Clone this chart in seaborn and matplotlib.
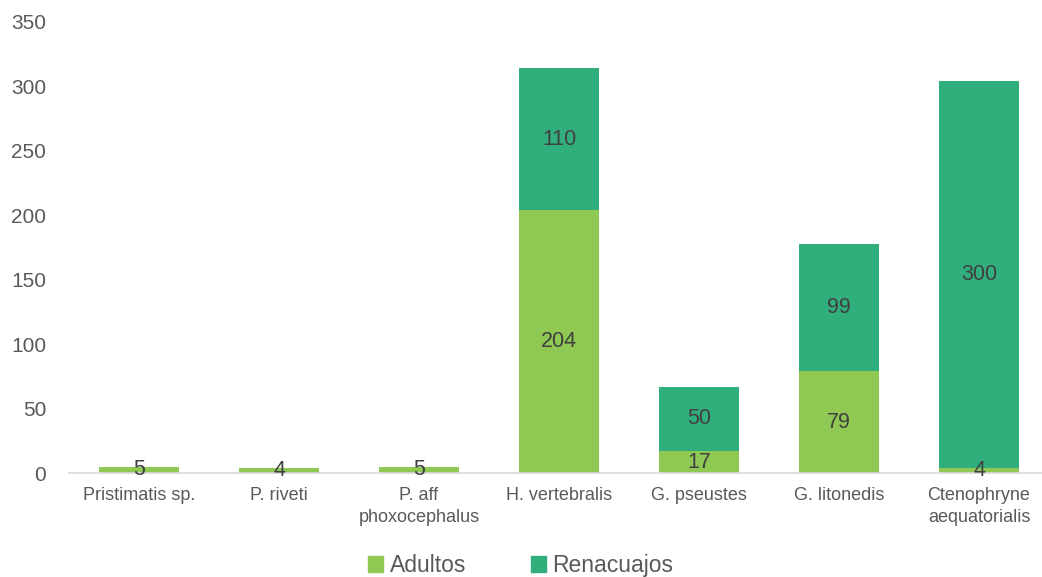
import pandas as pd
import matplotlib
matplotlib.use("Agg")
import matplotlib.pyplot as plt
import seaborn as sns
from matplotlib.patches import Patch

especies = ["Pristimatis sp.", "P. riveti", "P. aff\nphoxocephalus", "H. vertebralis",
            "G. pseustes", "G. litonedis", "Ctenophryne\naequatorialis"]
adultos = [5, 4, 5, 204, 17, 79, 4]
renacuajos = [0, 0, 0, 110, 50, 99, 300]

col_adultos = "#8FC852"
col_renacuajos = "#30AE7B"

sns.set_style("white")
plt.rcParams["font.family"] = ["Liberation Sans", "DejaVu Sans"]

df = pd.DataFrame({"especie": especies, "Adultos": adultos, "Renacuajos": renacuajos})
df["total"] = df["Adultos"] + df["Renacuajos"]

fig = plt.figure(figsize=(10.42, 5.77), dpi=100)
ax = fig.add_axes([69 / 1042, 0.180, 980 / 1042, 0.782])

# stacked: total first, adults drawn over it
sns.barplot(data=df, x="especie", y="total", color=col_renacuajos, width=0.57,
            saturation=1, linewidth=0, ax=ax)
sns.barplot(data=df, x="especie", y="Adultos", color=col_adultos, width=0.57,
            saturation=1, linewidth=0, ax=ax)

# data labels
for i, row in df.iterrows():
    ax.text(i, row["Adultos"] / 2, str(row["Adultos"]), ha="center", va="center",
            fontsize=15.5, color="#404040")
    if row["Renacuajos"] > 0:
        ax.text(i, row["Adultos"] + row["Renacuajos"] / 2, str(row["Renacuajos"]),
                ha="center", va="center", fontsize=15.5, color="#404040")

ax.set_ylim(0, 350)
ax.set_xlim(-0.5, len(especies) - 0.5)
ax.set_yticks(range(0, 351, 50))
ax.set_xlabel("")
ax.set_ylabel("")
ax.tick_params(axis="y", labelsize=15, labelcolor="#595959", length=0, pad=16.5)
ax.tick_params(axis="x", labelsize=13, labelcolor="#595959", length=0, pad=10)
for lbl in ax.get_xticklabels():
    lbl.set_linespacing(1.35)

for s in ["top", "right", "left"]:
    ax.spines[s].set_visible(False)
ax.spines["bottom"].set_color("#D9D9D9")
ax.spines["bottom"].set_linewidth(1.2)

handles = [Patch(color=col_adultos, label="Adultos"),
           Patch(color=col_renacuajos, label="Renacuajos")]
leg = fig.legend(handles=handles, loc="center", bbox_to_anchor=(0.5, 0.02), ncol=2,
                 frameon=False, fontsize=16.5, handlelength=0.65, handleheight=0.65,
                 handletextpad=0.3, columnspacing=2.8)
for t in leg.get_texts():
    t.set_color("#595959")

fig.savefig("out.png", dpi=100)
